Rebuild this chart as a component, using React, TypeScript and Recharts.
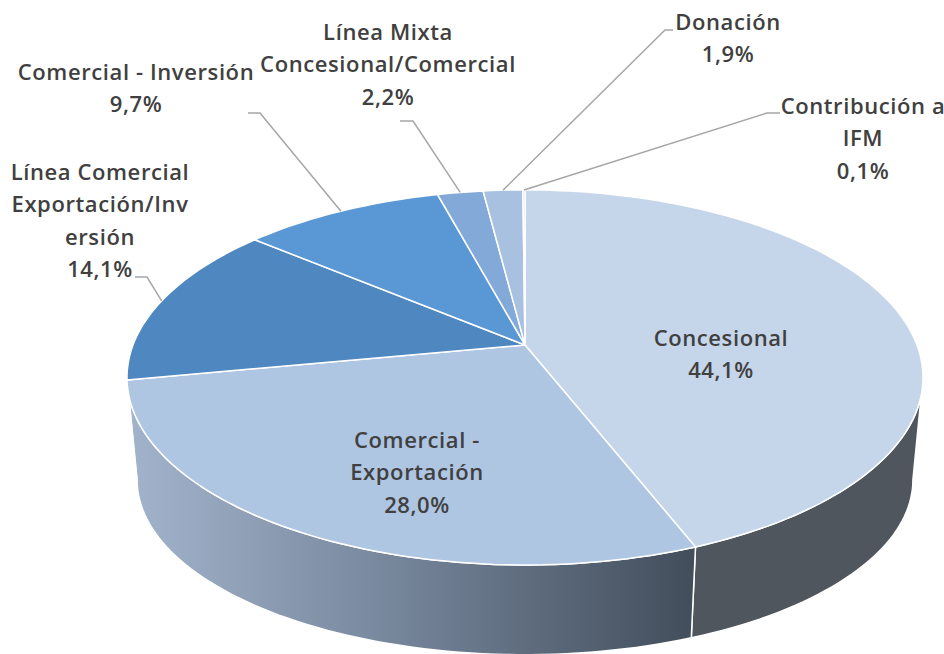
import { Pie, PieChart } from 'recharts'

const CATEGORIES = [
  'Concesional',
  'Comercial - Exportación',
  'Línea Comercial Exportación/Inversión',
  'Comercial - Inversión',
  'Línea Mixta Concesional/Comercial',
  'Donación',
  'Contribución a IFM',
]
const VALUES = [44.1, 28.0, 14.1, 9.7, 2.2, 1.9, 0.1]
// The label wrapping as it appears in the picture.
const LABEL_LINES = [
  ['Concesional'],
  ['Comercial -', 'Exportación'],
  ['Línea Comercial', 'Exportación/Inv', 'ersión'],
  ['Comercial - Inversión'],
  ['Línea Mixta', 'Concesional/Comercial'],
  ['Donación'],
  ['Contribución a', 'IFM'],
]

const TOP_COLORS = ['#c6d6ea', '#afc6e3', '#4f88c1', '#5a97d5', '#83a9d8', '#a9c1e1', '#c6d6ea']
const WALL_COLORS = ['url(#wallDark)', 'url(#wallBlue)', '#8c9fb8', '#8c9fb8', '#8c9fb8', '#8c9fb8', '#8c9fb8']

// Where each label block sits: centre x, first line y, line step.
const LABEL_X = [721, 417, 100, 136, 388, 728, 863]
const LABEL_Y = [346, 448, 180, 80, 40, 30, 114]
// Leader elbows [elbow, end]; in-slice labels have none.
const LEADERS: (number[][] | null)[] = [
  null,
  null,
  [[147, 277], [135, 277]],
  [[260, 113], [248, 113]],
  [[413, 121], [400, 121]],
  [[665, 30], [673, 30]],
  [[767, 113], [780, 113]],
]

const data = CATEGORIES.map((name, i) => ({ name, value: VALUES[i], fill: TOP_COLORS[i] }))

const WIDTH = 944
const HEIGHT = 654
const CX = 525
const CY = 345
const RADIUS = 392
const LINE_STEP = 32.3

// The pie is seen in perspective: the nearer rim is larger than the far one.
const TOP_PLANE = { r: 1, sy: 0.464, k: 0.173, dy: 0 }
const BOTTOM_PLANE = { r: 0.9745, sy: 0.4324, k: 0.174, dy: 104.5 }

type Plane = typeof TOP_PLANE

// angle is clockwise from 12 o'clock, in degrees
function project(angle: number, frac: number, cx: number, cy: number, radius: number, p: Plane) {
  const a = (angle * Math.PI) / 180
  const u = Math.sin(a) * frac
  const v = -Math.cos(a) * frac
  const d = 1 - p.k * v
  return [cx + (radius * p.r * u) / d, cy + p.dy + (radius * p.sy * v) / d]
}

function arc(from: number, to: number, cx: number, cy: number, radius: number, p: Plane) {
  const steps = Math.max(2, Math.ceil(Math.abs(to - from) / 1.5))
  const pts: number[][] = []
  for (let i = 0; i <= steps; i++) {
    pts.push(project(from + ((to - from) * i) / steps, 1, cx, cy, radius, p))
  }
  return pts
}

const toPath = (pts: number[][]) => pts.map((q, i) => `${i ? 'L' : 'M'}${q[0].toFixed(1)},${q[1].toFixed(1)}`).join(' ')

function TopFace(props: any) {
  const { cx, cy, outerRadius, startAngle, endAngle, fill } = props
  const pts = arc(90 - startAngle, 90 - endAngle, cx, cy, outerRadius, TOP_PLANE)
  return <path d={`M${cx},${cy} ${toPath(pts).replace('M', 'L')} Z`} fill={fill} stroke="#ffffff" strokeWidth={1.5} strokeLinejoin="round" />
}

function WallFace(props: any) {
  const { cx, cy, outerRadius, startAngle, endAngle, index } = props
  // only the part of the rim facing the viewer has a visible wall
  const from = Math.max(90 - startAngle, 100)
  const to = Math.min(90 - endAngle, 260)
  if (to <= from) return null
  const top = arc(from, to, cx, cy, outerRadius, TOP_PLANE)
  const bottom = arc(to, from, cx, cy, outerRadius, BOTTOM_PLANE)
  return <path d={`${toPath(top)} ${toPath(bottom).replace('M', 'L')} Z`} fill={WALL_COLORS[index]} stroke="#ffffff" strokeWidth={1.5} strokeLinejoin="round" />
}

function PieLabel(props: any) {
  const { index, midAngle, cx, cy, outerRadius } = props
  const lines = [...LABEL_LINES[index], `${VALUES[index].toFixed(1).replace('.', ',')}%`]
  const leader = LEADERS[index]
  const rim = project(90 - midAngle, 1, cx, cy, outerRadius, TOP_PLANE)
  return (
    <g>
      {leader && (
        <polyline
          points={[rim, ...leader].map((q) => q.join(',')).join(' ')}
          fill="none"
          stroke="#a6a6a6"
          strokeWidth={1.5}
        />
      )}
      <text
        textAnchor="middle"
        fontFamily="'Open Sans', sans-serif"
        fontWeight={600}
        fontSize={22}
        letterSpacing={0.6}
        fill="#404040"
      >
        {lines.map((line, i) => (
          <tspan key={i} x={LABEL_X[index]} y={LABEL_Y[index] + i * LINE_STEP}>
            {line}
          </tspan>
        ))}
      </text>
    </g>
  )
}

export default function App() {
  return (
    <div style={{ position: 'absolute', left: 0, top: 0, width: WIDTH, height: HEIGHT, background: '#ffffff' }}>
      <PieChart width={WIDTH} height={HEIGHT} margin={{ top: 0, right: 0, bottom: 0, left: 0 }}>
        <defs>
          <linearGradient id="wallBlue" gradientUnits="userSpaceOnUse" x1="128" y1="0" x2="692" y2="0">
            <stop offset="0%" stopColor="#a2b4cc" />
            <stop offset="40%" stopColor="#7d8da3" />
            <stop offset="70%" stopColor="#5f6d7f" />
            <stop offset="100%" stopColor="#434e5c" />
          </linearGradient>
          <linearGradient id="wallDark" gradientUnits="userSpaceOnUse" x1="692" y1="0" x2="922" y2="0">
            <stop offset="0%" stopColor="#50565e" />
            <stop offset="100%" stopColor="#50565e" />
          </linearGradient>
        </defs>
        <Pie
          data={data}
          dataKey="value"
          nameKey="name"
          cx={CX}
          cy={CY}
          outerRadius={RADIUS}
          startAngle={90}
          endAngle={-270}
          shape={WallFace}
          label={false}
          labelLine={false}
          stroke="none"
          isAnimationActive={false}
        />
        <Pie
          data={data}
          dataKey="value"
          nameKey="name"
          cx={CX}
          cy={CY}
          outerRadius={RADIUS}
          startAngle={90}
          endAngle={-270}
          shape={TopFace}
          label={PieLabel}
          labelLine={false}
          stroke="#ffffff"
          isAnimationActive={false}
        />
      </PieChart>
    </div>
  )
}
